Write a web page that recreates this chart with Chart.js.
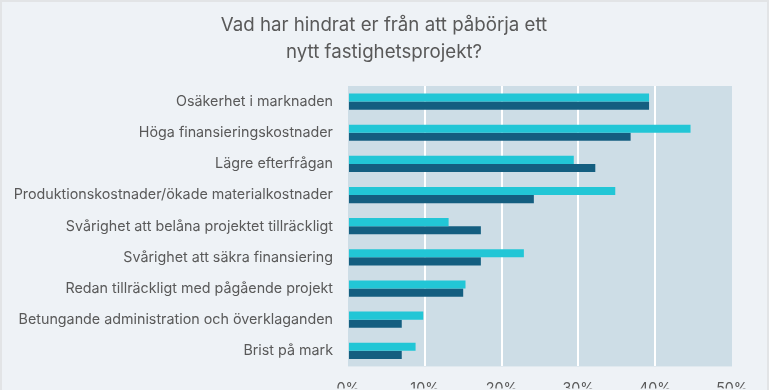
<!DOCTYPE html>
<html>
<head>
<meta charset="utf-8">
<script src="https://cdn.jsdelivr.net/npm/chart.js@4/dist/chart.umd.min.js"></script>
<style>
  html, body { margin: 0; padding: 0; background: #ffffff; overflow: hidden; }
  #frame { position: absolute; left: 0; top: 0; width: 765px; height: 400px;
           background: #eef2f6; border-left: 2px solid #e2e4e6; border-top: 2px solid #e2e4e6; border-right: 2px solid #e2e4e6; }
  #c { position: absolute; left: 0; top: 0; }
</style>
</head>
<body>
<div id="frame"></div>
<canvas id="c" width="770" height="390"></canvas>
<script>
const categories = [
  "Osäkerhet i marknaden",
  "Höga finansieringskostnader",
  "Lägre efterfrågan",
  "Produktionskostnader/ökade materialkostnader",
  "Svårighet att belåna projektet tillräckligt",
  "Svårighet att säkra finansiering",
  "Redan tillräckligt med pågående projekt",
  "Betungande administration och överklaganden",
  "Brist på mark"
];
const seriesA = [39.2, 44.6, 29.4, 34.8, 13.1, 22.9, 15.3, 9.8, 8.8];
const seriesB = [39.2, 36.8, 32.2, 24.2, 17.3, 17.3, 15.0, 7.0, 7.0];
const xTicks = [0, 10, 20, 30, 40, 50];
const titleLines = ["Vad har hindrat er från att påbörja ett", "nytt fastighetsprojekt?"];

const FONT = "Inter, 'Noto Sans', sans-serif";
const TEXT = "#595959";

const plotBg = {
  id: 'plotBg',
  beforeDraw(chart) {
    const {ctx, chartArea: a} = chart;
    ctx.save();
    ctx.fillStyle = '#cddde6';
    ctx.fillRect(a.left, a.top, a.right - a.left, a.bottom - a.top);
    ctx.restore();
  }
};

const titleText = {
  id: 'titleText',
  afterDraw(chart) {
    const ctx = chart.ctx;
    ctx.save();
    ctx.fillStyle = TEXT;
    ctx.font = "18.7px " + FONT;
    ctx.textAlign = 'center';
    ctx.textBaseline = 'alphabetic';
    ctx.fillText(titleLines[0], 384, 31);
    ctx.fillText(titleLines[1], 384, 57.5);
    ctx.restore();
  }
};

new Chart(document.getElementById('c'), {
  type: 'bar',
  data: {
    labels: categories,
    datasets: [
      { label: 'Serie 1', data: seriesA, backgroundColor: '#22c6d6', borderWidth: 0 },
      { label: 'Serie 2', data: seriesB, backgroundColor: '#145e80', borderWidth: 0 }
    ]
  },
  options: {
    indexAxis: 'y',
    responsive: false,
    animation: false,
    devicePixelRatio: 1,
    layout: { padding: { left: 0, right: 38, top: 86, bottom: 0 } },
    categoryPercentage: 0.52,
    barPercentage: 1.0,
    plugins: {
      legend: { display: false },
      tooltip: { enabled: false },
      title: { display: false }
    },
    scales: {
      x: {
        min: 0, max: 50,
        afterBuildTicks(scale) { scale.ticks = xTicks.map(v => ({ value: v })); },
        afterFit(scale) { scale.height = 22; },
        border: { display: false },
        grid: {
          drawTicks: false,
          lineWidth: 2,
          color: ctx => (ctx.index === 0 || ctx.index === xTicks.length - 1) ? 'rgba(0,0,0,0)' : '#ffffff'
        },
        ticks: {
          padding: 14,
          color: TEXT,
          font: { family: FONT, size: 14.3 },
          callback: v => v + '%'
        }
      },
      y: {
        afterFit(scale) { scale.width = 348; },
        border: { display: false },
        grid: { display: false, drawTicks: false },
        ticks: {
          padding: 15,
          color: TEXT,
          font: { family: FONT, size: 14.3 }
        }
      }
    }
  },
  plugins: [plotBg, titleText]
});
</script>
</body>
</html>
